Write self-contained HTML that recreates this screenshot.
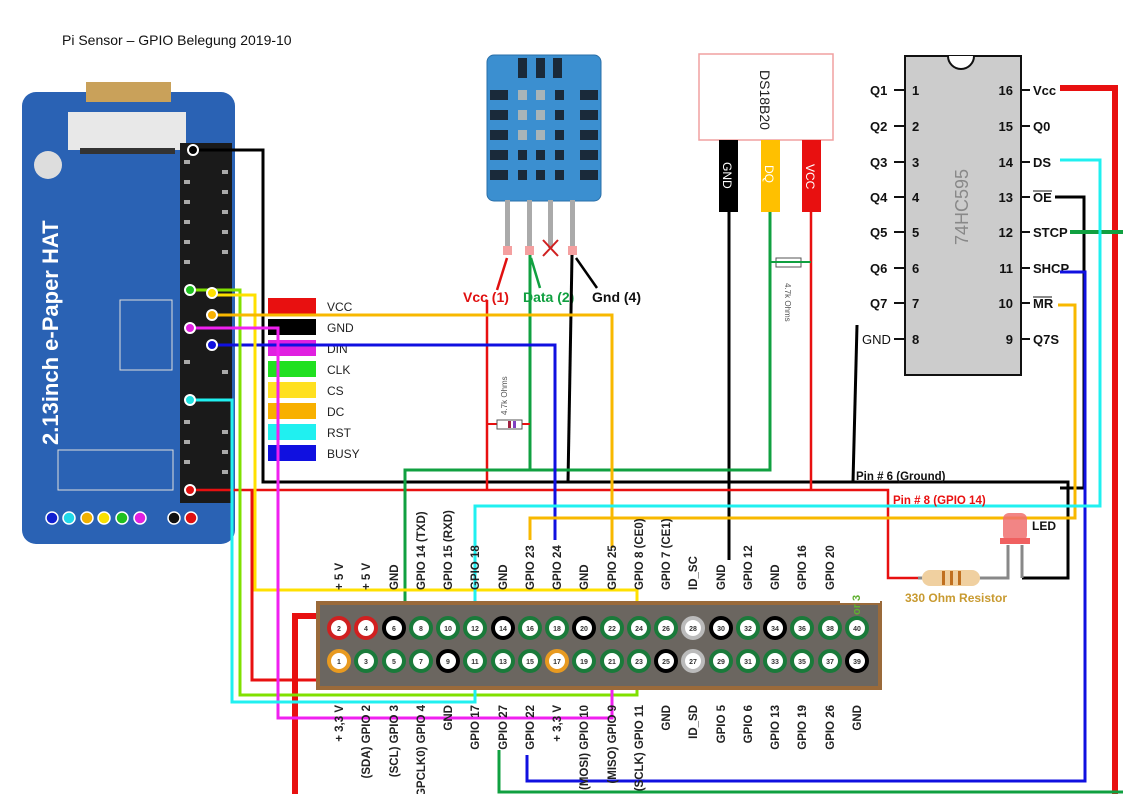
<!DOCTYPE html>
<html><head><meta charset="utf-8"><style>
body{margin:0;background:#fff}
svg{display:block;font-family:"Liberation Sans",sans-serif}
.pl{font-size:11.5px;font-weight:bold;fill:#222}
.pn{font-size:7px;font-weight:bold;fill:#333;text-anchor:middle}
.cl{font-size:13px;font-weight:bold;fill:#111}
</style></head><body>
<svg width="1123" height="794" viewBox="0 0 1123 794" xmlns="http://www.w3.org/2000/svg">
<rect width="1123" height="794" fill="#fff"/>
<text x="62" y="45" font-size="14" fill="#111">Pi Sensor – GPIO Belegung 2019-10</text>

<!-- ePaper board -->
<rect x="22" y="92" width="213" height="452" rx="14" fill="#2a62b4"/>
<rect x="86" y="82" width="85" height="20" fill="#c9a15a"/>
<rect x="68" y="112" width="118" height="38" fill="#e8e8e8"/>
<rect x="80" y="148" width="95" height="6" fill="#333"/>
<circle cx="48" cy="165" r="14" fill="#ddd"/>
<text transform="translate(58,445) rotate(-90)" font-size="22" font-weight="bold" fill="#fff">2.13inch e-Paper HAT</text>
<rect x="120" y="300" width="52" height="70" fill="none" stroke="#ddd"/>
<rect x="58" y="450" width="115" height="40" fill="none" stroke="#ddd"/>
<rect x="180" y="143" width="52" height="360" fill="#1a1a1a"/>
<g fill="#aaa">
<rect x="184" y="160" width="6" height="4"/><rect x="184" y="180" width="6" height="4"/><rect x="184" y="200" width="6" height="4"/><rect x="184" y="220" width="6" height="4"/><rect x="184" y="240" width="6" height="4"/><rect x="184" y="260" width="6" height="4"/><rect x="184" y="360" width="6" height="4"/><rect x="184" y="420" width="6" height="4"/><rect x="184" y="440" width="6" height="4"/><rect x="184" y="460" width="6" height="4"/>
<rect x="222" y="170" width="6" height="4"/><rect x="222" y="190" width="6" height="4"/><rect x="222" y="210" width="6" height="4"/><rect x="222" y="230" width="6" height="4"/><rect x="222" y="250" width="6" height="4"/><rect x="222" y="370" width="6" height="4"/><rect x="222" y="430" width="6" height="4"/><rect x="222" y="450" width="6" height="4"/><rect x="222" y="470" width="6" height="4"/>
</g>
<g stroke="#fff" stroke-width="1.5">
<circle cx="52" cy="518" r="6" fill="#1020d0"/><circle cx="69" cy="518" r="6" fill="#20d8e8"/><circle cx="87" cy="518" r="6" fill="#f0b000"/><circle cx="104" cy="518" r="6" fill="#f8e000"/><circle cx="122" cy="518" r="6" fill="#20c020"/><circle cx="140" cy="518" r="6" fill="#e020e0"/><circle cx="174" cy="518" r="6" fill="#111"/><circle cx="191" cy="518" r="6" fill="#e01010"/>
</g>

<!-- legend -->
<rect x="268" y="298" width="48" height="16" fill="#e81010"/>
<rect x="268" y="319" width="48" height="16" fill="#000"/>
<rect x="268" y="340" width="48" height="16" fill="#e020e0"/>
<rect x="268" y="361" width="48" height="16" fill="#20e020"/>
<rect x="268" y="382" width="48" height="16" fill="#ffe020"/>
<rect x="268" y="403" width="48" height="16" fill="#f8b000"/>
<rect x="268" y="424" width="48" height="16" fill="#20f0f0"/>
<rect x="268" y="445" width="48" height="16" fill="#1010e0"/>
<g font-size="12" fill="#222">
<text x="327" y="311">VCC</text><text x="327" y="332">GND</text><text x="327" y="353">DIN</text><text x="327" y="374">CLK</text><text x="327" y="395">CS</text><text x="327" y="416">DC</text><text x="327" y="437">RST</text><text x="327" y="458">BUSY</text>
</g>

<!-- DHT11 -->
<rect x="487" y="55" width="114" height="146" rx="7" fill="#3b8fd0" stroke="#2a6fa8"/>
<g fill="#1a2a3a">
<rect x="518" y="58" width="9" height="20"/><rect x="536" y="58" width="9" height="20"/><rect x="553" y="58" width="9" height="20"/>
<rect x="490" y="90" width="18" height="10"/><rect x="580" y="90" width="18" height="10"/>
<rect x="490" y="110" width="18" height="10"/><rect x="580" y="110" width="18" height="10"/>
<rect x="490" y="130" width="18" height="10"/><rect x="580" y="130" width="18" height="10"/>
<rect x="490" y="150" width="18" height="10"/><rect x="580" y="150" width="18" height="10"/>
<rect x="490" y="170" width="18" height="10"/><rect x="580" y="170" width="18" height="10"/>
<rect x="555" y="90" width="9" height="10"/><rect x="555" y="110" width="9" height="10"/><rect x="555" y="130" width="9" height="10"/><rect x="555" y="150" width="9" height="10"/><rect x="555" y="170" width="9" height="10"/>
<rect x="518" y="150" width="9" height="10"/><rect x="536" y="150" width="9" height="10"/><rect x="518" y="170" width="9" height="10"/><rect x="536" y="170" width="9" height="10"/>
</g>
<g fill="#a8b4b8">
<rect x="518" y="90" width="9" height="10"/><rect x="536" y="90" width="9" height="10"/><rect x="518" y="110" width="9" height="10"/><rect x="536" y="110" width="9" height="10"/><rect x="518" y="130" width="9" height="10"/><rect x="536" y="130" width="9" height="10"/>
</g>
<g fill="#aaa"><rect x="505" y="200" width="5" height="48"/><rect x="527" y="200" width="5" height="48"/><rect x="548" y="200" width="5" height="48"/><rect x="570" y="200" width="5" height="48"/></g>
<g fill="#f4a0a0"><rect x="503" y="246" width="9" height="9"/><rect x="525" y="246" width="9" height="9"/><rect x="568" y="246" width="9" height="9"/></g>
<path d="M543 240 L558 256 M558 240 L543 256" stroke="#d02020" stroke-width="2"/>
<path d="M497 290 L507 258" stroke="#e01010" stroke-width="2.5"/>
<path d="M540 288 L531 258" stroke="#10a040" stroke-width="2.5"/>
<path d="M597 288 L576 258" stroke="#000" stroke-width="2.5"/>
<text x="463" y="302" font-size="14" font-weight="bold" fill="#e01010">Vcc (1)</text>
<text x="523" y="302" font-size="14" font-weight="bold" fill="#10a040">Data (2)</text>
<text x="592" y="302" font-size="14" font-weight="bold" fill="#111">Gnd (4)</text>

<!-- DS18B20 -->
<rect x="699" y="54" width="134" height="86" fill="#fff" stroke="#f0a0a0" stroke-width="1.5"/>
<text transform="translate(760,70) rotate(90)" font-size="14" fill="#222">DS18B20</text>
<rect x="719" y="140" width="19" height="72" fill="#000"/>
<rect x="761" y="140" width="19" height="72" fill="#ffc000"/>
<rect x="802" y="140" width="19" height="72" fill="#e81010"/>
<text transform="translate(723,162) rotate(90)" font-size="12" fill="#fff">GND</text>
<text transform="translate(765,165) rotate(90)" font-size="12" fill="#fff">DQ</text>
<text transform="translate(806,164) rotate(90)" font-size="12" fill="#fff">VCC</text>
<rect x="776" y="258" width="25" height="9" fill="#fff" stroke="#555"/>
<text transform="translate(785,283) rotate(90)" font-size="8" fill="#555">4.7k Ohms</text>

<!-- 74HC595 -->
<rect x="905" y="56" width="116" height="319" fill="#ccc" stroke="#111" stroke-width="2"/>
<path d="M948 56 A13 13 0 0 0 974 56" fill="#fff" stroke="#111" stroke-width="2"/>
<text transform="translate(968,245) rotate(-90)" font-size="18" fill="#888">74HC595</text>
<g class="cl">
<text x="870" y="95">Q1</text><text x="870" y="131">Q2</text><text x="870" y="167">Q3</text><text x="870" y="202">Q4</text><text x="870" y="237">Q5</text><text x="870" y="273">Q6</text><text x="870" y="308">Q7</text><text x="862" y="344" font-weight="normal">GND</text>
<text x="912" y="95">1</text><text x="912" y="131">2</text><text x="912" y="167">3</text><text x="912" y="202">4</text><text x="912" y="237">5</text><text x="912" y="273">6</text><text x="912" y="308">7</text><text x="912" y="344">8</text>
<text x="1013" y="95" text-anchor="end">16</text><text x="1013" y="131" text-anchor="end">15</text><text x="1013" y="167" text-anchor="end">14</text><text x="1013" y="202" text-anchor="end">13</text><text x="1013" y="237" text-anchor="end">12</text><text x="1013" y="273" text-anchor="end">11</text><text x="1013" y="308" text-anchor="end">10</text><text x="1013" y="344" text-anchor="end">9</text>
<text x="1033" y="95">Vcc</text><text x="1033" y="131">Q0</text><text x="1033" y="167">DS</text><text x="1033" y="202">OE</text><text x="1033" y="237">STCP</text><text x="1033" y="273">SHCP</text><text x="1033" y="308">MR</text><text x="1033" y="344">Q7S</text>
</g>
<path d="M1033 191 H1052 M1033 297 H1052" stroke="#111"/>
<g stroke="#111" stroke-width="2">
<path d="M894 90 H905 M894 126 H905 M894 162 H905 M894 197 H905 M894 232 H905 M894 268 H905 M894 303 H905 M894 339 H905"/>
<path d="M1021 90 H1030 M1021 126 H1030 M1021 162 H1030 M1021 197 H1030 M1021 232 H1030 M1021 268 H1030 M1021 303 H1030 M1021 339 H1030"/>
</g>

<!-- wires -->
<g fill="none" stroke-linejoin="miter">
<!-- black -->
<path d="M193 150 H263 V482 H1068 V578 H1022" stroke="#000" stroke-width="3"/>
<path d="M572 255 L568 482" stroke="#000" stroke-width="3"/>
<path d="M857 325 L853 482" stroke="#000" stroke-width="3"/>
<path d="M1055 197 H1084 V488 H1060" stroke="#000" stroke-width="3"/>
<path d="M729 212 V560" stroke="#000" stroke-width="3"/>
<!-- red -->
<path d="M190 490 H888 V578 H918" stroke="#e81010" stroke-width="2.5"/>
<path d="M487 300 V490" stroke="#e81010" stroke-width="2.5"/>
<path d="M811 212 V490" stroke="#e81010" stroke-width="2.5"/>
<path d="M252 490 V680 H338 V672" stroke="#e81010" stroke-width="3"/>
<path d="M340 616 H295 V794" stroke="#e81010" stroke-width="6"/>
<path d="M1060 88 H1115 V794" stroke="#e81010" stroke-width="6"/>
<!-- green dark -->
<path d="M530 255 V470 H405 V660 H421" stroke="#10a040" stroke-width="3"/>
<path d="M770 212 V470 H530" stroke="#10a040" stroke-width="3"/>
<path d="M1070 232 H1123" stroke="#10a040" stroke-width="4"/>
<path d="M499 750 V792 H1123" stroke="#10a040" stroke-width="3"/>
<!-- blue -->
<path d="M527 755 V781 H1085 V272 H1060" stroke="#1010e0" stroke-width="3"/>
<path d="M212 345 H555 V540" stroke="#1010e0" stroke-width="3"/>
<!-- light green -->
<path d="M190 290 H240 V695 H637 V661" stroke="#80e000" stroke-width="3"/>
<!-- yellow -->
<path d="M212 295 H255 V590 H637 V628" stroke="#ffe000" stroke-width="3"/>
<!-- orange -->
<path d="M212 315 H612 V548" stroke="#f8b800" stroke-width="3"/>
<path d="M530 540 V518 H1075 V305 H1058" stroke="#f8b800" stroke-width="3"/>
<!-- magenta -->
<path d="M190 328 H278 V718 H612 V661" stroke="#f020f0" stroke-width="3"/>
<!-- cyan -->
<path d="M190 400 H232 V702 H475 V661" stroke="#20f0f0" stroke-width="3"/>
<path d="M475 628 V506 H1100 V160 H1060" stroke="#20f0f0" stroke-width="3"/>
<!-- 4.7k near DHT -->
<path d="M487 424 H530" stroke="#e81010" stroke-width="2"/>
<path d="M770 262 H811" stroke="#10a040" stroke-width="2"/>
</g>
<rect x="497" y="420" width="25" height="9" fill="#fff" stroke="#555"/>
<rect x="508" y="421" width="3" height="7" fill="#a02040"/><rect x="513" y="421" width="3" height="7" fill="#8040c0"/>
<text transform="translate(507,415) rotate(-90)" font-size="8" fill="#555">4.7k Ohms</text>
<!-- 330 resistor + LED -->
<path d="M918 578 H985 H1008 V545 M1022 545 V578" stroke="#888" stroke-width="3" fill="none"/>
<rect x="922" y="570" width="58" height="16" rx="8" fill="#f0d0a0"/>
<rect x="942" y="571" width="3" height="14" fill="#c07020"/><rect x="950" y="571" width="3" height="14" fill="#c07020"/><rect x="958" y="571" width="3" height="14" fill="#c07020"/>
<rect x="1003" y="513" width="24" height="28" rx="6" fill="#f07070" opacity="0.85"/>
<rect x="1000" y="538" width="30" height="6" fill="#f06060"/>
<text x="1032" y="530" font-size="12" font-weight="bold" fill="#111">LED</text>
<text x="905" y="602" font-size="12" font-weight="bold" fill="#c89a30">330 Ohm Resistor</text>
<text x="856" y="480" font-size="11.5" font-weight="bold" fill="#111">Pin # 6 (Ground)</text>
<text x="893" y="504" font-size="11.5" font-weight="bold" fill="#e81010">Pin # 8  (GPIO 14)</text>

<!-- GPIO header -->
<rect x="318" y="603" width="562" height="85" fill="#6b6660" stroke="#9a6a3a" stroke-width="4"/>
<rect x="840" y="590" width="40" height="13" fill="#fff"/>
<text transform="translate(860,615) rotate(-90)" font-size="11" font-weight="bold" fill="#60b030">or 3</text>
<g fill="#fff" stroke-width="4">
<circle cx="339" cy="628" r="10" stroke="#d02020"/><circle cx="366" cy="628" r="10" stroke="#d02020"/><circle cx="394" cy="628" r="10" stroke="#000"/><circle cx="421" cy="628" r="10" stroke="#1a7a3a"/><circle cx="448" cy="628" r="10" stroke="#1a7a3a"/><circle cx="475" cy="628" r="10" stroke="#1a7a3a"/><circle cx="503" cy="628" r="10" stroke="#000"/><circle cx="530" cy="628" r="10" stroke="#1a7a3a"/><circle cx="557" cy="628" r="10" stroke="#1a7a3a"/><circle cx="584" cy="628" r="10" stroke="#000"/><circle cx="612" cy="628" r="10" stroke="#1a7a3a"/><circle cx="639" cy="628" r="10" stroke="#1a7a3a"/><circle cx="666" cy="628" r="10" stroke="#1a7a3a"/><circle cx="693" cy="628" r="10" stroke="#bbb"/><circle cx="721" cy="628" r="10" stroke="#000"/><circle cx="748" cy="628" r="10" stroke="#1a7a3a"/><circle cx="775" cy="628" r="10" stroke="#000"/><circle cx="802" cy="628" r="10" stroke="#1a7a3a"/><circle cx="830" cy="628" r="10" stroke="#1a7a3a"/><circle cx="857" cy="628" r="10" stroke="#1a7a3a"/>
<circle cx="339" cy="661" r="10" stroke="#e89a20"/><circle cx="366" cy="661" r="10" stroke="#1a7a3a"/><circle cx="394" cy="661" r="10" stroke="#1a7a3a"/><circle cx="421" cy="661" r="10" stroke="#1a7a3a"/><circle cx="448" cy="661" r="10" stroke="#000"/><circle cx="475" cy="661" r="10" stroke="#1a7a3a"/><circle cx="503" cy="661" r="10" stroke="#1a7a3a"/><circle cx="530" cy="661" r="10" stroke="#1a7a3a"/><circle cx="557" cy="661" r="10" stroke="#e89a20"/><circle cx="584" cy="661" r="10" stroke="#1a7a3a"/><circle cx="612" cy="661" r="10" stroke="#1a7a3a"/><circle cx="639" cy="661" r="10" stroke="#1a7a3a"/><circle cx="666" cy="661" r="10" stroke="#000"/><circle cx="693" cy="661" r="10" stroke="#bbb"/><circle cx="721" cy="661" r="10" stroke="#1a7a3a"/><circle cx="748" cy="661" r="10" stroke="#1a7a3a"/><circle cx="775" cy="661" r="10" stroke="#1a7a3a"/><circle cx="802" cy="661" r="10" stroke="#1a7a3a"/><circle cx="830" cy="661" r="10" stroke="#1a7a3a"/><circle cx="857" cy="661" r="10" stroke="#000"/>
</g>
<g class="pn">
<text x="339" y="631">2</text><text x="366" y="631">4</text><text x="394" y="631">6</text><text x="421" y="631">8</text><text x="448" y="631">10</text><text x="475" y="631">12</text><text x="503" y="631">14</text><text x="530" y="631">16</text><text x="557" y="631">18</text><text x="584" y="631">20</text><text x="612" y="631">22</text><text x="639" y="631">24</text><text x="666" y="631">26</text><text x="693" y="631">28</text><text x="721" y="631">30</text><text x="748" y="631">32</text><text x="775" y="631">34</text><text x="802" y="631">36</text><text x="830" y="631">38</text><text x="857" y="631">40</text>
<text x="339" y="664">1</text><text x="366" y="664">3</text><text x="394" y="664">5</text><text x="421" y="664">7</text><text x="448" y="664">9</text><text x="475" y="664">11</text><text x="503" y="664">13</text><text x="530" y="664">15</text><text x="557" y="664">17</text><text x="584" y="664">19</text><text x="612" y="664">21</text><text x="639" y="664">23</text><text x="666" y="664">25</text><text x="693" y="664">27</text><text x="721" y="664">29</text><text x="748" y="664">31</text><text x="775" y="664">33</text><text x="802" y="664">35</text><text x="830" y="664">37</text><text x="857" y="664">39</text>
</g>
<g class="pl">
<text transform="translate(343,590) rotate(-90)">+ 5 V</text>
<text transform="translate(370,590) rotate(-90)">+ 5 V</text>
<text transform="translate(398,590) rotate(-90)">GND</text>
<text transform="translate(425,590) rotate(-90)">GPIO 14 (TXD)</text>
<text transform="translate(452,590) rotate(-90)">GPIO 15 (RXD)</text>
<text transform="translate(479,590) rotate(-90)">GPIO 18</text>
<text transform="translate(507,590) rotate(-90)">GND</text>
<text transform="translate(534,590) rotate(-90)">GPIO 23</text>
<text transform="translate(561,590) rotate(-90)">GPIO 24</text>
<text transform="translate(588,590) rotate(-90)">GND</text>
<text transform="translate(616,590) rotate(-90)">GPIO 25</text>
<text transform="translate(643,590) rotate(-90)">GPIO 8 (CE0)</text>
<text transform="translate(670,590) rotate(-90)">GPIO 7 (CE1)</text>
<text transform="translate(697,590) rotate(-90)">ID_SC</text>
<text transform="translate(725,590) rotate(-90)">GND</text>
<text transform="translate(752,590) rotate(-90)">GPIO 12</text>
<text transform="translate(779,590) rotate(-90)">GND</text>
<text transform="translate(806,590) rotate(-90)">GPIO 16</text>
<text transform="translate(834,590) rotate(-90)">GPIO 20</text>
</g>
<g class="pl" text-anchor="end">
<text transform="translate(343,705) rotate(-90)">+ 3,3 V</text>
<text transform="translate(370,705) rotate(-90)">(SDA) GPIO 2</text>
<text transform="translate(398,705) rotate(-90)">(SCL) GPIO 3</text>
<text transform="translate(425,705) rotate(-90)">(GPCLK0) GPIO 4</text>
<text transform="translate(452,705) rotate(-90)">GND</text>
<text transform="translate(479,705) rotate(-90)">GPIO 17</text>
<text transform="translate(507,705) rotate(-90)">GPIO 27</text>
<text transform="translate(534,705) rotate(-90)">GPIO 22</text>
<text transform="translate(561,705) rotate(-90)">+ 3,3 V</text>
<text transform="translate(588,705) rotate(-90)">(MOSI) GPIO 10</text>
<text transform="translate(616,705) rotate(-90)">(MISO) GPIO 9</text>
<text transform="translate(643,705) rotate(-90)">(SCLK) GPIO 11</text>
<text transform="translate(670,705) rotate(-90)">GND</text>
<text transform="translate(697,705) rotate(-90)">ID_SD</text>
<text transform="translate(725,705) rotate(-90)">GPIO 5</text>
<text transform="translate(752,705) rotate(-90)">GPIO 6</text>
<text transform="translate(779,705) rotate(-90)">GPIO 13</text>
<text transform="translate(806,705) rotate(-90)">GPIO 19</text>
<text transform="translate(834,705) rotate(-90)">GPIO 26</text>
<text transform="translate(861,705) rotate(-90)">GND</text>
</g>
<!-- header connection dots on ePaper -->
<g stroke="#fff" stroke-width="2">
<circle cx="193" cy="150" r="5" fill="#000"/><circle cx="190" cy="290" r="5" fill="#20c020"/><circle cx="212" cy="293" r="5" fill="#ffe000"/><circle cx="212" cy="315" r="5" fill="#f8b000"/><circle cx="190" cy="328" r="5" fill="#e020e0"/><circle cx="212" cy="345" r="5" fill="#1010e0"/><circle cx="190" cy="400" r="5" fill="#20e0e0"/><circle cx="190" cy="490" r="5" fill="#e01010"/>
</g>
</svg>
</body></html>
